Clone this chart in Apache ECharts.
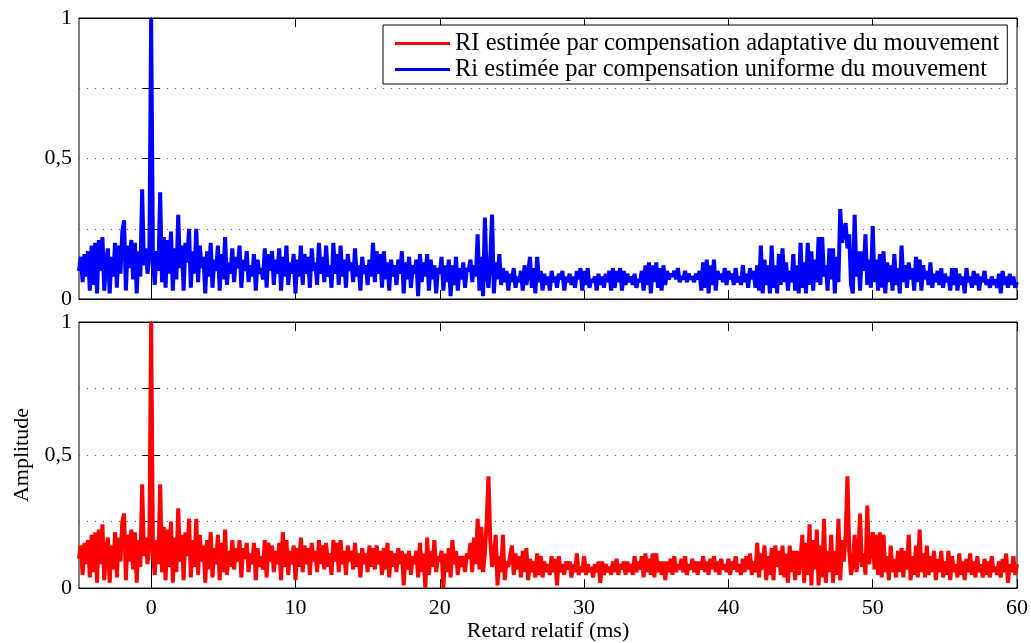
<!DOCTYPE html>
<html>
<head>
<meta charset="utf-8">
<script src="https://cdn.jsdelivr.net/npm/echarts@6/dist/echarts.min.js"></script>
<style>
html, body { margin: 0; padding: 0; background: #fff; }
#chart { width: 1031px; height: 643px; }
</style>
</head>
<body>
<div id="chart"></div>
<script>
// retard relatif : premier echantillon et pas (ms)
var t0 = -5, dt = 0.125;
var xTicks = [0, 10, 20, 30, 40, 50, 60];
var yTicks = [0, 0.25, 0.5, 0.75, 1];
var nomAdapt = 'RI estimée par compensation adaptative du mouvement';
var nomUnif = 'Ri estimée par compensation uniforme du mouvement';

// amplitude x100, une ligne par ms (de -5 a 59), puis la valeur a 60 ms
var ampUnif = [
  10, 15, 6, 16, 8, 17, 3, 19,
  5, 20, 2, 21, 10, 22, 3, 13,
  18, 2, 15, 8, 20, 4, 19, 9,
  24, 28, 3, 19, 11, 21, 7, 20,
  2, 17, 8, 39, 12, 18, 9, 15,
  100, 14, 5, 17, 10, 38, 6, 22,
  4, 21, 9, 24, 3, 18, 7, 30,
  11, 19, 3, 20, 13, 25, 4, 17,
  9, 25, 6, 19, 11, 15, 2, 17,
  8, 20, 4, 14, 10, 19, 3, 16,
  7, 22, 5, 13, 9, 18, 6, 15,
  11, 19, 4, 14, 10, 17, 6, 12,
  8, 16, 3, 14, 9, 11, 7, 18,
  4, 16, 10, 17, 5, 14, 9, 18,
  3, 15, 8, 19, 5, 13, 9, 16,
  2, 14, 8, 19, 5, 16, 9, 15,
  4, 18, 10, 13, 5, 20, 9, 15,
  6, 19, 8, 12, 4, 20, 9, 16,
  5, 19, 8, 14, 4, 16, 10, 13,
  6, 18, 8, 12, 3, 15, 9, 12,
  5, 14, 8, 20, 6, 17, 9, 16,
  4, 17, 7, 13, 3, 14, 8, 12,
  5, 14, 9, 17, 2, 13, 7, 15,
  4, 12, 9, 14, 1, 16, 6, 13,
  8, 16, 3, 14, 7, 12, 2, 11,
  9, 15, 3, 12, 6, 14, 1, 12,
  5, 15, 3, 11, 7, 13, 4, 11,
  10, 14, 6, 12, 8, 23, 3, 15,
  1, 29, 9, 4, 14, 30, 2, 13,
  7, 16, 5, 11, 6, 10, 3, 9,
  6, 11, 4, 8, 6, 10, 3, 12,
  5, 9, 15, 4, 11, 2, 15, 6,
  10, 3, 9, 5, 8, 3, 10, 6,
  8, 4, 9, 7, 10, 3, 8, 6,
  9, 5, 8, 4, 10, 7, 11, 3,
  10, 5, 11, 4, 7, 6, 8, 3,
  9, 5, 8, 4, 9, 6, 10, 3,
  11, 4, 10, 6, 11, 3, 10, 5,
  9, 6, 8, 5, 9, 4, 7, 6,
  10, 3, 12, 5, 13, 2, 12, 6,
  13, 4, 11, 3, 12, 5, 10, 7,
  9, 8, 10, 7, 11, 6, 8, 7,
  10, 6, 9, 7, 8, 6, 9, 7,
  10, 3, 13, 4, 14, 2, 12, 5,
  14, 3, 10, 7, 9, 6, 11, 5,
  10, 7, 9, 5, 11, 6, 8, 5,
  12, 6, 9, 4, 11, 7, 10, 4,
  12, 3, 19, 2, 14, 5, 12, 2,
  19, 4, 12, 2, 16, 5, 18, 6,
  13, 3, 10, 6, 16, 3, 12, 2,
  20, 4, 13, 2, 20, 5, 17, 3,
  14, 6, 22, 5, 22, 8, 12, 3,
  18, 7, 18, 2, 15, 6, 32, 20,
  24, 27, 18, 23, 5, 2, 30, 8,
  17, 3, 17, 10, 23, 5, 14, 4,
  26, 6, 14, 3, 16, 4, 17, 2,
  13, 6, 12, 3, 16, 5, 11, 2,
  19, 6, 12, 4, 13, 7, 11, 3,
  15, 6, 14, 3, 12, 7, 10, 5,
  13, 4, 9, 6, 10, 5, 11, 4,
  9, 6, 8, 3, 11, 5, 11, 3,
  9, 5, 8, 2, 11, 6, 8, 4,
  10, 5, 9, 3, 8, 6, 10, 5,
  7, 4, 8, 5, 7, 4, 9, 2,
  10, 5, 8, 4, 9, 5, 8, 4,
  6
];

var ampAdapt = [
  11, 16, 5, 17, 9, 18, 4, 20,
  6, 21, 2, 22, 9, 24, 3, 14,
  19, 2, 16, 7, 21, 4, 19, 10,
  25, 28, 3, 20, 10, 22, 7, 21,
  2, 18, 8, 39, 12, 19, 9, 16,
  100, 13, 5, 18, 9, 39, 6, 23,
  3, 22, 8, 25, 2, 19, 6, 30,
  10, 20, 3, 21, 12, 26, 4, 18,
  8, 26, 5, 20, 10, 16, 2, 18,
  7, 21, 4, 15, 9, 20, 3, 17,
  6, 22, 5, 14, 8, 18, 7, 15,
  10, 18, 4, 15, 11, 17, 6, 13,
  9, 17, 3, 15, 8, 12, 7, 18,
  4, 17, 10, 16, 6, 14, 9, 17,
  3, 21, 8, 18, 5, 14, 9, 16,
  3, 15, 8, 19, 6, 16, 9, 15,
  5, 17, 10, 14, 6, 18, 9, 16,
  7, 17, 8, 13, 5, 18, 10, 17,
  6, 18, 9, 14, 5, 16, 10, 14,
  7, 17, 8, 13, 4, 15, 9, 13,
  6, 16, 8, 15, 7, 16, 9, 14,
  5, 15, 7, 17, 4, 14, 8, 13,
  6, 15, 9, 14, 1, 13, 7, 14,
  5, 12, 9, 14, 4, 17, 6, 13,
  0, 19, 5, 14, 8, 18, 6, 12,
  10, 14, 0, 13, 6, 15, 4, 18,
  9, 14, 5, 12, 8, 12, 6, 13,
  11, 17, 6, 19, 9, 26, 7, 23,
  6, 13, 25, 42, 18, 8, 11, 20,
  1, 12, 6, 20, 3, 10, 8, 12,
  16, 5, 13, 7, 12, 4, 14, 6,
  15, 3, 11, 6, 10, 4, 13, 5,
  12, 4, 10, 6, 9, 5, 12, 6,
  11, 1, 12, 6, 9, 5, 10, 7,
  10, 4, 9, 6, 13, 5, 8, 6,
  12, 5, 9, 6, 8, 4, 9, 6,
  10, 2, 10, 5, 9, 6, 8, 5,
  10, 6, 11, 5, 9, 7, 10, 5,
  10, 6, 9, 5, 12, 6, 10, 7,
  12, 4, 13, 6, 11, 5, 13, 4,
  13, 6, 10, 5, 10, 3, 10, 6,
  11, 5, 12, 6, 9, 7, 11, 6,
  12, 5, 9, 7, 11, 6, 10, 5,
  10, 7, 12, 6, 10, 5, 11, 7,
  12, 6, 10, 5, 11, 7, 9, 6,
  11, 5, 10, 7, 12, 6, 9, 5,
  11, 6, 12, 7, 13, 5, 10, 6,
  17, 4, 13, 7, 16, 3, 12, 5,
  15, 3, 16, 8, 14, 5, 16, 4,
  13, 2, 16, 6, 14, 3, 14, 5,
  11, 20, 2, 17, 5, 24, 1, 18,
  7, 22, 1, 16, 4, 26, 2, 14,
  6, 20, 2, 14, 5, 26, 3, 18,
  10, 20, 42, 14, 5, 9, 20, 6,
  12, 28, 8, 13, 5, 31, 9, 15,
  21, 7, 20, 5, 21, 4, 20, 6,
  12, 3, 16, 6, 11, 4, 14, 6,
  15, 4, 14, 7, 20, 3, 12, 5,
  16, 4, 22, 6, 13, 4, 16, 5,
  12, 6, 14, 3, 11, 6, 14, 4,
  10, 5, 14, 3, 12, 6, 9, 4,
  13, 5, 10, 3, 11, 6, 13, 5,
  10, 4, 12, 6, 9, 4, 11, 5,
  10, 4, 12, 6, 8, 5, 10, 4,
  11, 6, 13, 2, 9, 6, 12, 5,
  9
];

function points(arr) {
  return arr.map(function (v, i) { return [t0 + i * dt, v / 100]; });
}

var police = 'Liberation Serif';
var txt = { color: '#000', fontFamily: police, fontSize: 22 };

function axeX(grille, pos, labels) {
  return {
    type: 'value', gridIndex: grille, position: pos, min: -5, max: 60,
    axisLine: { show: true, onZero: false, lineStyle: { color: '#000', width: 1 } },
    axisTick: { show: true, inside: true, length: 9, customValues: xTicks, lineStyle: { color: '#000' } },
    axisLabel: { show: labels, customValues: xTicks, margin: 9, color: '#000', fontFamily: police, fontSize: 22 },
    splitLine: { show: false }
  };
}

function axeY(grille, pos, labels) {
  return {
    type: 'value', gridIndex: grille, position: pos, min: 0, max: 1, interval: 0.25,
    axisLine: { show: true, lineStyle: { color: '#000', width: 1 } },
    axisTick: { show: true, inside: true, length: 9, lineStyle: { color: '#000' } },
    axisLabel: {
      show: labels, margin: 7, color: '#000', fontFamily: police, fontSize: 22,
      formatter: function (v) {
        if (v === 0) return '0';
        if (v === 0.5) return '0,5';
        if (v === 1) return '1';
        return '';
      }
    },
    splitLine: { show: labels, lineStyle: { color: '#555', width: 1, type: [1, 7] } }
  };
}

var myChart = echarts.init(document.getElementById('chart'));

var xs = [axeX(0, 'bottom', false), axeX(0, 'top', false), axeX(1, 'bottom', true), axeX(1, 'top', false)];
xs[2].name = 'Retard relatif (ms)';
xs[2].nameLocation = 'middle';
xs[2].nameGap = 29;
xs[2].nameTextStyle = txt;

var ys = [axeY(0, 'left', true), axeY(0, 'right', false), axeY(1, 'left', true), axeY(1, 'right', false)];
ys[2].name = 'Amplitude';
ys[2].nameLocation = 'middle';
ys[2].nameGap = 46;
ys[2].nameTextStyle = txt;

var option = {
  animation: false,
  backgroundColor: '#fff',
  grid: [
    { left: 79, right: 14, top: 18, height: 281, show: true, borderColor: '#000', borderWidth: 1, backgroundColor: '#fff' },
    { left: 79, right: 14, top: 322, height: 271, show: true, borderColor: '#000', borderWidth: 1, backgroundColor: '#fff' }
  ],
  xAxis: xs,
  yAxis: ys,
  legend: {
    data: [nomAdapt, nomUnif],
    orient: 'vertical',
    left: 383, top: 25,
    padding: [6, 8, 2, 12],
    itemGap: 1,
    itemWidth: 55, itemHeight: 3,
    icon: 'rect',
    backgroundColor: '#fff',
    borderColor: '#000', borderWidth: 1, borderRadius: 0,
    textStyle: { color: '#000', fontFamily: police, fontSize: 24.5, lineHeight: 24 }
  },
  series: [
    {
      name: nomUnif, type: 'line', xAxisIndex: 0, yAxisIndex: 0,
      showSymbol: false, data: points(ampUnif), z: 3,
      lineStyle: { color: '#0000ff', width: 4 }, itemStyle: { color: '#0000ff' }
    },
    {
      name: nomAdapt, type: 'line', xAxisIndex: 2, yAxisIndex: 2,
      showSymbol: false, data: points(ampAdapt), z: 3,
      lineStyle: { color: '#ff0000', width: 4 }, itemStyle: { color: '#ff0000' }
    }
  ]
};

myChart.setOption(option);
window.addEventListener('resize', function () { myChart.resize(); });
</script>
</body>
</html>
